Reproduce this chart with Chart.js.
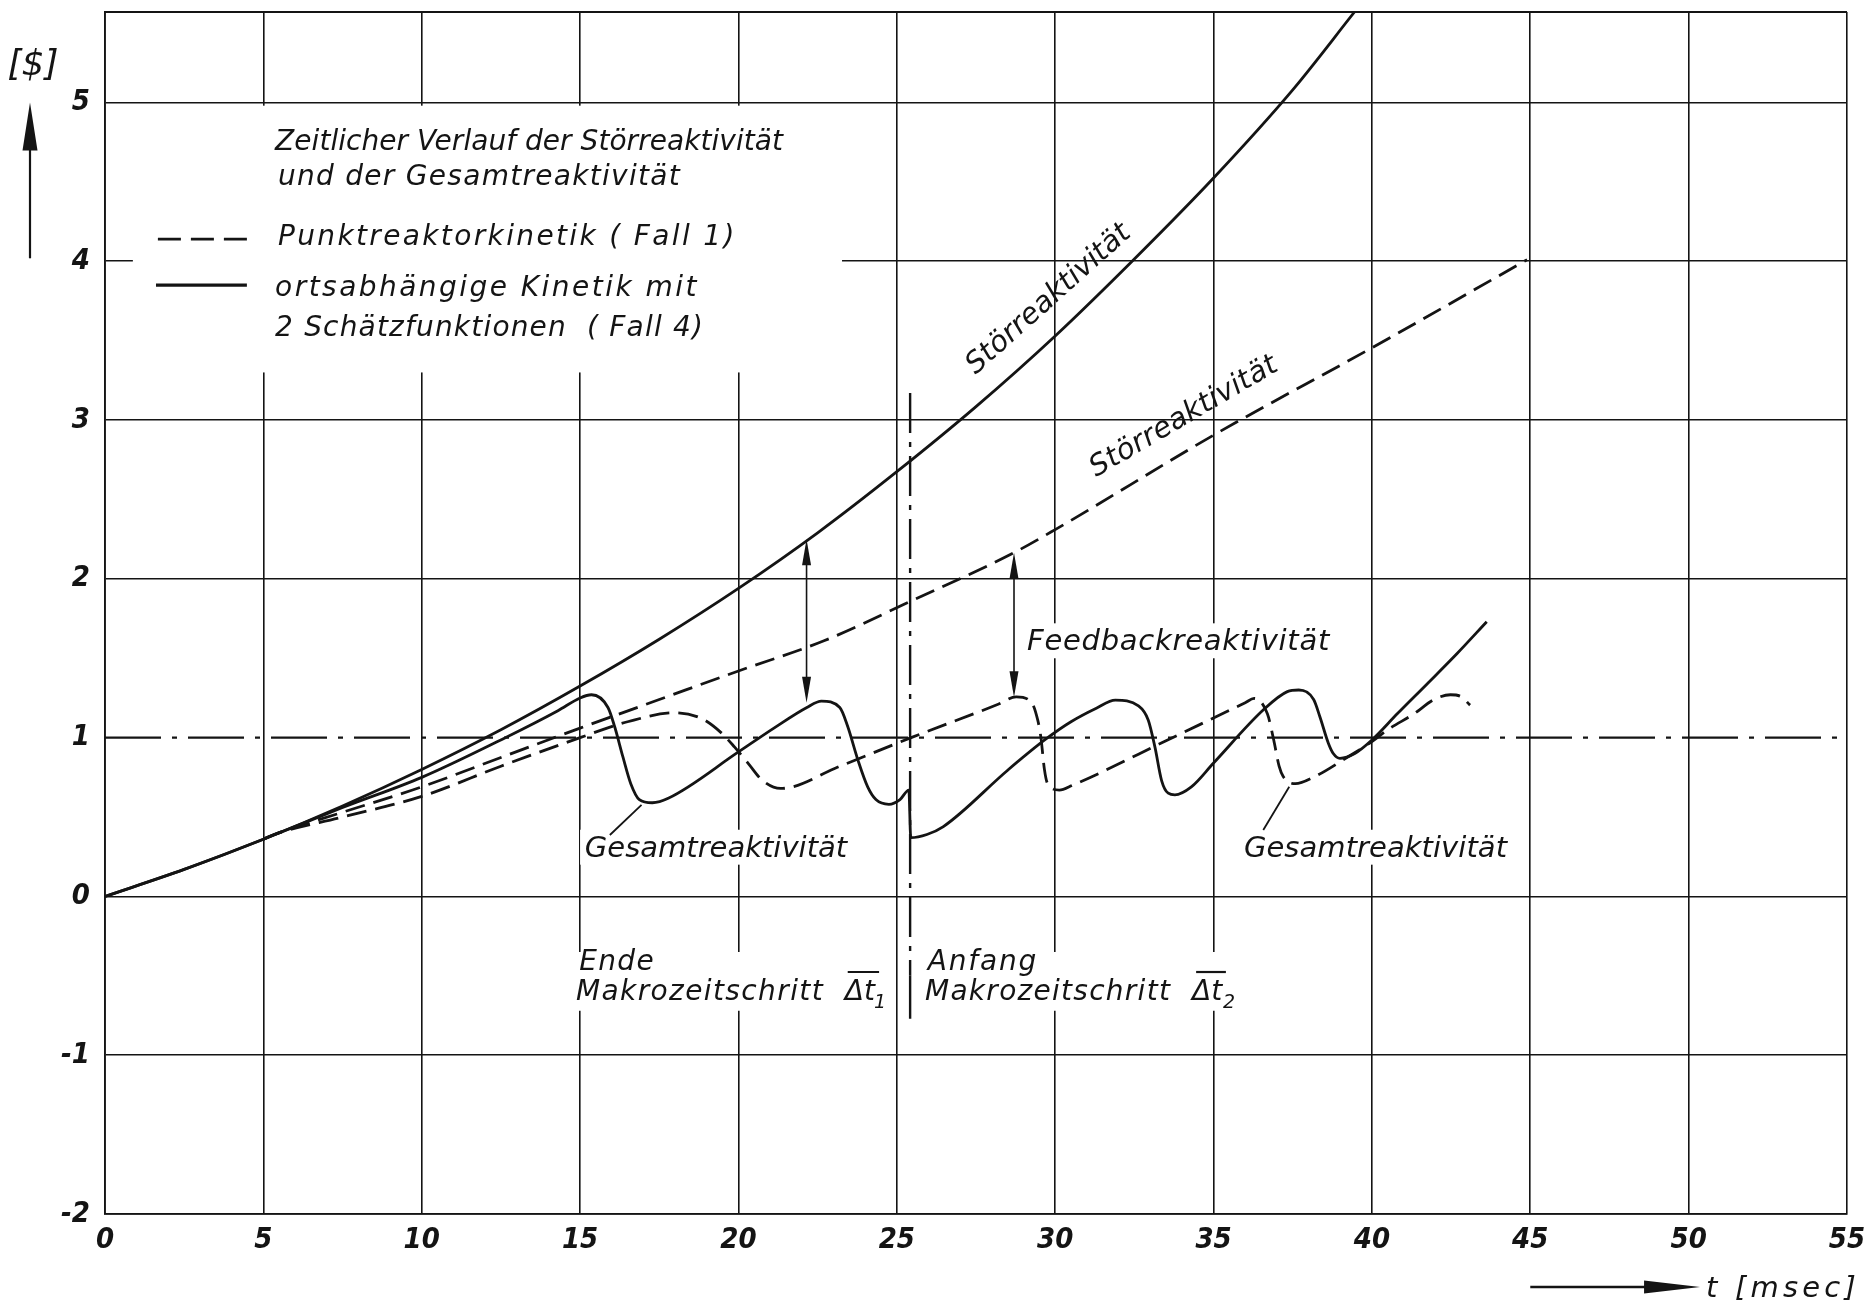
<!DOCTYPE html>
<html lang="de">
<head>
<meta charset="utf-8">
<title>Zeitlicher Verlauf der Störreaktivität und der Gesamtreaktivität</title>
<script src="https://cdn.jsdelivr.net/npm/chart.js@4.4.1/dist/chart.umd.min.js"></script>
<style>
  html, body { margin: 0; padding: 0; background: #fff; }
  canvas { display: block; }
</style>
</head>
<body>
<canvas id="chart" width="1865" height="1307"></canvas>
<script>
// Zeitachse t [msec] und Reaktivitätsachse [$]
const timeTicks = [0, 5, 10, 15, 20, 25, 30, 35, 40, 45, 50, 55];
const reactivityTicks = [-2, -1, 0, 1, 2, 3, 4, 5];

// Störreaktivität, ortsabhängige Kinetik mit 2 Schätzfunktionen (Fall 4)
const stoer4T = [0, 2.5, 5, 7.5, 10, 12.5, 15, 17.5, 20, 22.5, 25, 27.5, 30, 32.5, 35, 37.5, 39.45];
const stoer4R = [0, 0.17, 0.36, 0.57, 0.80, 1.05, 1.325, 1.62, 1.94, 2.29, 2.675, 3.085, 3.53, 4.015, 4.525, 5.08, 5.57];

// Gesamtreaktivität, ortsabhängige Kinetik (Fall 4); Sprung bei Beginn von Makrozeitschritt 2
const gesamt4T = [0, 2.5, 5, 7.5, 10, 12.64, 14.3, 15.0, 15.36, 15.88, 16.09, 16.35, 16.6, 16.87, 17.28, 17.8, 20, 21.12, 22.16, 22.62,
                  23.2, 23.45, 23.77, 24.08, 24.34, 24.75, 25.1, 25.38, 25.44, 25.95, 26.47, 28.5, 29.7, 30.5, 31.3, 31.9, 32.63, 32.94, 33.15,
                  33.36, 33.57, 33.78, 34.3, 35, 36.6, 37.33, 37.69, 38.16, 38.36, 38.625, 38.78, 38.99, 39.46, 40, 40.8, 41.75, 42.69, 43.625];
const gesamt4R = [0, 0.17, 0.36, 0.56, 0.75, 1.0, 1.17, 1.25, 1.27, 1.19, 1.07, 0.88, 0.71, 0.61, 0.59, 0.62, 0.91, 1.06, 1.19, 1.23,
                  1.19, 1.07, 0.86, 0.69, 0.61, 0.58, 0.61, 0.67, 0.37, 0.39, 0.44, 0.795, 0.99, 1.10, 1.185, 1.236, 1.2, 1.11, 0.94,
                  0.73, 0.65, 0.64, 0.69, 0.84, 1.18, 1.29, 1.30, 1.24, 1.13, 0.965, 0.90, 0.87, 0.90, 0.985, 1.15, 1.34, 1.53, 1.73];

// Störreaktivität, Punktreaktorkinetik (Fall 1)
const stoer1T = [5, 5.34, 7.5, 10, 12.5, 15, 17.5, 20, 22.7, 25.45, 28.7, 30, 35, 40, 44.9];
const stoer1R = [0.36, 0.39, 0.53, 0.69, 0.875, 1.06, 1.24, 1.42, 1.61, 1.86, 2.165, 2.31, 2.905, 3.455, 4.01];

// Gesamtreaktivität, Punktreaktorkinetik (Fall 1)
const gesamt1T = [5, 5.34, 7.5, 10, 12.5, 15, 16.5, 18.0, 18.84, 19.46, 19.88, 20.3, 20.76, 21.33, 23.2, 25.45, 28.2, 28.77, 29.24, 29.45, 29.55,
                  29.66, 29.76, 30.13, 30.54, 33.6, 36.0, 36.28, 36.7, 36.9, 37.07, 37.2, 37.58, 38.2, 39.25, 40, 40.5, 41.33, 41.96, 42.48, 42.8, 43.1];
const gesamt1R = [0.36, 0.39, 0.50, 0.63, 0.82, 1.0, 1.10, 1.157, 1.12, 1.03, 0.94, 0.84, 0.73, 0.68, 0.82, 1.0, 1.21, 1.257, 1.226, 1.11, 1.0,
                  0.80, 0.71, 0.67, 0.70, 0.99, 1.22, 1.247, 1.15, 0.985, 0.82, 0.755, 0.71, 0.755, 0.88, 0.975, 1.05, 1.15, 1.24, 1.27, 1.26, 1.205];

// Bezugslinie bei 1 $ (prompt kritisch) und Grenze zwischen den Makrozeitschritten
const promptT = [0, 55];
const promptR = [1, 1];
const stepT = [25.42, 25.42];
const stepR = [3.17, -0.5];
const stepEndR = [-0.5, -0.77];

// Feedbackreaktivität als Abstand zwischen Stör- und Gesamtreaktivität
const feedbackT = [22.15, 28.7];
const feedbackTop = [2.25, 2.165];
const feedbackBottom = [1.22, 1.255];

const INK = '#141414';
const TEXT_FONT = '"DejaVu Sans", "Noto Sans", sans-serif';
const NUM_FONT = '"Liberation Sans Narrow", "DejaVu Sans Condensed", "DejaVu Sans", sans-serif';
const DASH = [20, 9];
const DASH_DOT = [56, 11, 5, 11];

const pts = (xs, ys) => xs.map((x, i) => ({ x, y: ys[i] }));

function curve(xs, ys, dash) {
  return {
    data: pts(xs, ys), borderColor: INK, borderWidth: 2.8, borderDash: dash,
    pointRadius: 0, fill: false, cubicInterpolationMode: 'monotone',
    borderCapStyle: 'butt', borderJoinStyle: 'round'
  };
}
function rule(xs, ys, dash, width) {
  return {
    data: pts(xs, ys), borderColor: INK, borderWidth: width, borderDash: dash,
    pointRadius: 0, fill: false, tension: 0, borderCapStyle: 'butt'
  };
}

// letter-spaced oblique lettering fitted between two x positions
function fitText(ctx, text, left, right, baseline, size) {
  ctx.font = `italic ${size}px ${TEXT_FONT}`;
  ctx.letterSpacing = '0px';
  const w = ctx.measureText(text).width;
  const n = [...text].length;
  const ls = Math.max(-1, (right - left - w) / n);
  ctx.letterSpacing = ls.toFixed(2) + 'px';
  ctx.fillText(text, left, baseline);
  ctx.letterSpacing = '0px';
}

function arrowHead(ctx, x, tipY, dir, len, half) {
  ctx.beginPath();
  ctx.moveTo(x, tipY);
  ctx.lineTo(x - half, tipY + dir * len);
  ctx.lineTo(x + half, tipY + dir * len);
  ctx.closePath();
  ctx.fill();
}

// plain lettering in data coordinates: [text, left t, right t, baseline $, size]
const notes = [
  ['Zeitlicher Verlauf der Störreaktivität', 5.37, 21.41, 4.70, 28],
  ['und der Gesamtreaktivität', 5.46, 18.19, 4.48, 28],
  ['Punktreaktorkinetik ( Fall 1)', 5.46, 19.95, 4.10, 28],
  ['ortsabhängige Kinetik mit', 5.37, 18.75, 3.78, 28],
  ['2 Schätzfunktionen  ( Fall 4)', 5.37, 18.91, 3.53, 28],
  ['Feedbackreaktivität', 29.11, 38.68, 1.55, 29],
  ['Gesamtreaktivität', 15.15, 23.43, 0.248, 29],
  ['Gesamtreaktivität', 35.96, 44.27, 0.248, 29],
  ['Ende', 14.97, 17.37, -0.463, 28],
  ['Makrozeitschritt', 14.87, 22.70, -0.652, 28],
  ['Anfang', 25.98, 29.46, -0.463, 28],
  ['Makrozeitschritt', 25.89, 33.66, -0.652, 28]
];
// paper left blank behind lettering (gridlines interrupted): [t0, t1, $top, $bottom]
const blanks = [
  [0.88, 23.27, 4.98, 3.30],
  [28.95, 38.85, 1.72, 1.50],
  [15.0, 23.6, 0.42, 0.20],
  [35.8, 44.4, 0.42, 0.20],
  [14.75, 24.75, -0.35, -0.72],
  [25.8, 35.95, -0.35, -0.72]
];

const inkPlugin = {
  id: 'ink',
  beforeDatasetsDraw(chart) {
    const { ctx, chartArea: a, scales: { x, y } } = chart;
    const X = v => x.getPixelForValue(v), Y = v => y.getPixelForValue(v);
    ctx.save();
    ctx.fillStyle = '#fff';
    for (const [t0, t1, r0, r1] of blanks) {
      ctx.fillRect(X(t0), Y(r0), X(t1) - X(t0), Y(r1) - Y(r0));
    }
    // upper frame edge
    ctx.strokeStyle = INK;
    ctx.lineWidth = 1.8;
    ctx.beginPath();
    ctx.moveTo(a.left, a.top);
    ctx.lineTo(a.right, a.top);
    ctx.stroke();
    ctx.restore();
  },
  afterDatasetsDraw(chart) {
    const { ctx, scales: { x, y } } = chart;
    const X = v => x.getPixelForValue(v), Y = v => y.getPixelForValue(v);
    ctx.save();
    ctx.fillStyle = INK;
    ctx.strokeStyle = INK;
    ctx.textBaseline = 'alphabetic';
    ctx.textAlign = 'left';

    for (const [s, t0, t1, r, size] of notes) fitText(ctx, s, X(t0), X(t1), Y(r), size);

    // Δt with overbar and index
    const deltas = [[23.36, 24.28, 23.45, 24.44, '1'], [34.32, 35.30, 34.45, 35.39, '2']];
    for (const [t0, tSub, b0, b1, idx] of deltas) {
      ctx.font = `italic 28px ${TEXT_FONT}`;
      ctx.fillText('Δt', X(t0), Y(-0.652));
      ctx.font = `italic 19px ${TEXT_FONT}`;
      ctx.fillText(idx, X(tSub), Y(-0.705));
      ctx.lineWidth = 2.2;
      ctx.beginPath();
      ctx.moveTo(X(b0), Y(-0.476));
      ctx.lineTo(X(b1), Y(-0.476));
      ctx.stroke();
    }

    // legend line samples
    ctx.lineWidth = 2.8;
    ctx.setLineDash([23, 10]);
    ctx.beginPath(); ctx.moveTo(X(1.67), Y(4.14)); ctx.lineTo(X(4.48), Y(4.14)); ctx.stroke();
    ctx.setLineDash([]);
    ctx.lineWidth = 3.2;
    ctx.beginPath(); ctx.moveTo(X(1.61), Y(3.85)); ctx.lineTo(X(4.48), Y(3.85)); ctx.stroke();

    // curve names written along the rising curves
    const along = [[29.80, 3.76, -41.8, 210], [34.07, 3.02, -30.4, 213]];
    for (const [t, r, deg, len] of along) {
      ctx.save();
      ctx.translate(X(t), Y(r));
      ctx.rotate(deg * Math.PI / 180);
      ctx.textBaseline = 'middle';
      ctx.font = `italic 29px ${TEXT_FONT}`;
      const s = 'Störreaktivität';
      ctx.letterSpacing = '0px';
      const w = ctx.measureText(s).width;
      ctx.letterSpacing = ((len - w) / s.length).toFixed(2) + 'px';
      ctx.fillText(s, -len / 2, 0);
      ctx.restore();
    }

    // leader lines to the Gesamtreaktivität curves
    ctx.lineWidth = 1.8;
    const leaders = [[16.94, 0.576, 15.94, 0.387], [37.39, 0.691, 36.57, 0.418]];
    for (const [t0, r0, t1, r1] of leaders) {
      ctx.beginPath(); ctx.moveTo(X(t0), Y(r0)); ctx.lineTo(X(t1), Y(r1)); ctx.stroke();
    }

    // Feedbackreaktivität double arrows
    feedbackT.forEach((t, i) => {
      const px = X(t), top = Y(feedbackTop[i]), bot = Y(feedbackBottom[i]);
      ctx.lineWidth = 1.6;
      ctx.beginPath(); ctx.moveTo(px, top + 20); ctx.lineTo(px, bot - 20); ctx.stroke();
      arrowHead(ctx, px, top, 1, 26, 4.5);
      arrowHead(ctx, px, bot, -1, 26, 4.5);
    });
    ctx.restore();
  },
  afterDraw(chart) {
    const { ctx, chartArea: a, scales: { x, y } } = chart;
    const X = v => x.getPixelForValue(v), Y = v => y.getPixelForValue(v);
    ctx.save();
    ctx.fillStyle = INK;
    ctx.strokeStyle = INK;
    // unit of the reactivity axis with upward arrow
    ctx.font = `italic 36px ${TEXT_FONT}`;
    ctx.textAlign = 'center';
    ctx.textBaseline = 'middle';
    ctx.fillText('[$]', a.left - 72, Y(5) - 37);
    const ax = a.left - 75;
    ctx.lineWidth = 2.2;
    ctx.beginPath(); ctx.moveTo(ax, Y(4) - 3); ctx.lineTo(ax, Y(5) + 40); ctx.stroke();
    arrowHead(ctx, ax, Y(5), 1, 48, 7.5);
    // time axis arrow and unit
    const ty = a.bottom + 73, tip = X(50.36);
    ctx.lineWidth = 2.4;
    ctx.beginPath(); ctx.moveTo(X(45), ty); ctx.lineTo(tip - 50, ty); ctx.stroke();
    ctx.beginPath();
    ctx.moveTo(tip, ty); ctx.lineTo(tip - 56, ty - 6.5); ctx.lineTo(tip - 56, ty + 6.5); ctx.closePath(); ctx.fill();
    ctx.textAlign = 'left';
    ctx.textBaseline = 'alphabetic';
    fitText(ctx, 't [msec]', tip + 6, 1860, ty + 10, 29);
    ctx.restore();
  }
};

const numFont = { family: NUM_FONT, size: 29, style: 'italic', weight: 'bold' };

new Chart(document.getElementById('chart'), {
  type: 'line',
  data: {
    datasets: [
      rule(promptT, promptR, DASH_DOT, 2.4),
      rule(stepT, stepR, [40, 9, 5, 9], 2.4),
      rule(stepT, stepEndR, [], 2.4),
      curve(stoer4T, stoer4R, []),
      curve(gesamt4T, gesamt4R, []),
      curve(stoer1T, stoer1R, DASH),
      curve(gesamt1T, gesamt1R, DASH)
    ]
  },
  options: {
    responsive: false,
    animation: false,
    events: [],
    layout: { padding: { left: 0, top: 12, right: 18, bottom: 0 } },
    plugins: { legend: { display: false }, tooltip: { enabled: false } },
    scales: {
      x: {
        type: 'linear', min: 0, max: 55,
        afterBuildTicks: s => { s.ticks = timeTicks.map(v => ({ value: v })); },
        afterFit: s => { s.height = 93; s.paddingLeft = 0; s.paddingRight = 0; },
        ticks: { font: numFont, color: INK, padding: 9, maxRotation: 0, autoSkip: false, callback: v => String(v) },
        grid: { color: INK, lineWidth: 1.6, drawTicks: false },
        border: { display: true, color: INK, width: 1.8 }
      },
      y: {
        type: 'linear', min: -2, max: 5.57,
        afterBuildTicks: s => { s.ticks = reactivityTicks.map(v => ({ value: v })); },
        afterFit: s => { s.width = 105; s.paddingTop = 0; s.paddingBottom = 0; },
        ticks: { font: numFont, color: INK, padding: 15, autoSkip: false, callback: v => String(v) },
        // the 1 $ level is drawn as its own dash-dot line instead of a gridline
        grid: { color: c => (c.tick && c.tick.value === 1 ? 'rgba(0,0,0,0)' : INK), lineWidth: 1.6, drawTicks: false },
        border: { display: true, color: INK, width: 1.8 }
      }
    }
  },
  plugins: [inkPlugin]
});
</script>
</body>
</html>
